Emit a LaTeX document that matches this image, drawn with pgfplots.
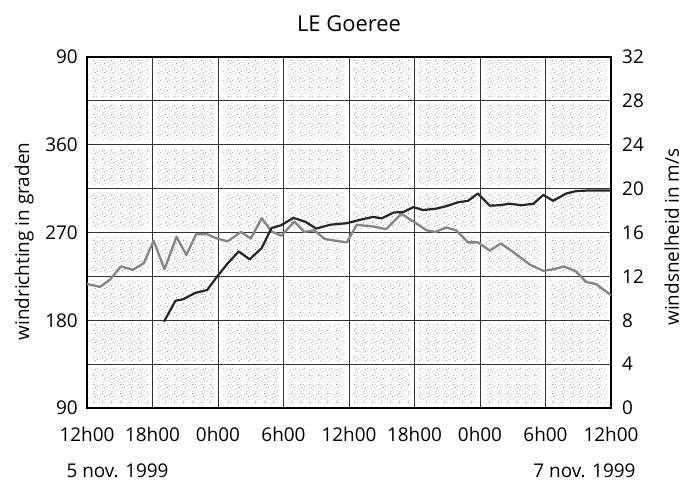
\documentclass[border=0pt]{standalone}
\usepackage{fontspec}
\setmainfont{Open Sans}
\usepackage{pgfplots}
\usepackage{pgfplotstable}
\pgfplotsset{compat=1.18}
\usetikzlibrary{patterns}

% sparse irregular stipple for the plot background
\pgfdeclarepatternformonly{stipple}{\pgfqpoint{0bp}{0bp}}{\pgfqpoint{9bp}{9bp}}{\pgfqpoint{9bp}{9bp}}{%
  \pgfpathrectangle{\pgfqpoint{0.4bp}{0.9bp}}{\pgfqpoint{0.9bp}{0.9bp}}%
  \pgfpathrectangle{\pgfqpoint{3.9bp}{0.2bp}}{\pgfqpoint{0.9bp}{0.9bp}}%
  \pgfpathrectangle{\pgfqpoint{7.1bp}{1.8bp}}{\pgfqpoint{0.9bp}{0.9bp}}%
  \pgfpathrectangle{\pgfqpoint{1.9bp}{3.6bp}}{\pgfqpoint{0.9bp}{0.9bp}}%
  \pgfpathrectangle{\pgfqpoint{5.4bp}{4.3bp}}{\pgfqpoint{0.9bp}{0.9bp}}%
  \pgfpathrectangle{\pgfqpoint{8.0bp}{5.6bp}}{\pgfqpoint{0.9bp}{0.9bp}}%
  \pgfpathrectangle{\pgfqpoint{0.7bp}{6.4bp}}{\pgfqpoint{0.9bp}{0.9bp}}%
  \pgfpathrectangle{\pgfqpoint{3.5bp}{7.6bp}}{\pgfqpoint{0.9bp}{0.9bp}}%
  \pgfpathrectangle{\pgfqpoint{6.3bp}{7.9bp}}{\pgfqpoint{0.9bp}{0.9bp}}%
  \pgfusepath{fill}}

% hours after 12h00 on 5 nov. 1999, wind speed in m/s
\pgfplotstableread{
t v
0    11.3
1.2  11.05
2.1  11.7
3.1  12.9
4.2  12.6
5.2  13.2
6.1  15.25
7.1  12.65
8.2  15.6
9.1  13.95
10.0 15.85
11.0 15.85
11.9 15.45
12.9 15.2
14.1 16.05
15.0 15.45
16.0 17.3
16.9 16.1
17.8 15.7
19.0 17.0
19.9 16.05
20.8 16.2
21.8 15.4
22.8 15.25
23.8 15.1
24.7 16.7
26.2 16.55
27.4 16.3
28.8 17.7
29.9 17.0
31.1 16.2
31.9 16.05
32.9 16.45
33.8 16.2
34.9 15.1
35.8 15.1
36.9 14.35
37.9 15.0
39.0 14.25
40.6 13.05
41.8 12.5
42.7 12.65
43.7 12.9
44.8 12.45
45.7 11.5
46.6 11.3
48.0 10.3
}\snelheid

% wind direction in degrees
\pgfplotstableread{
t deg
7.05 178.5
8.1  200
8.8  201.5
9.9  208
11.0 211
11.9 224.5
12.9 238.5
13.9 250.5
14.9 242.5
16.0 254
16.9 274.5
17.8 277.5
18.9 285
20.0 281
21.0 274
22.3 278
23.8 279.5
25.0 283
26.2 286
27.0 284.5
28.1 290.5
29.0 291
29.9 296
30.8 293
32.0 294.5
32.9 297
34.0 301
34.9 302.5
35.8 310
36.9 297.5
37.8 298
38.7 299.5
39.8 298
40.9 299.5
41.8 308.5
42.7 302.5
43.9 310
44.8 312.5
45.8 313
48.0 313
}\richting

\newcommand\lbl{\fontsize{19}{22}\selectfont}

\begin{document}
\begin{tikzpicture}
\useasboundingbox (0,0) rectangle (685bp,482bp);

% stippled cells, kept clear of the grid lines
\begin{scope}[x=1bp, y=1bp]
\foreach \i in {0,...,7}{
  \foreach \j in {0,...,7}{
    \fill[pattern=stipple, pattern color=black!40]
      ({87+65.5*\i+4.5}, {74+43.875*\j+4}) rectangle
      ({87+65.5*(\i+1)-4.5}, {74+43.875*(\j+1)-4});
  }
}
\end{scope}

\begin{axis}[
  at={(87bp,74bp)}, anchor=south west,
  width=524bp, height=351bp, scale only axis,
  xmin=0, xmax=48, ymin=0, ymax=32,
  xtick={0,6,...,48},
  xticklabels={12h00,18h00,0h00,6h00,12h00,18h00,0h00,6h00,12h00},
  ytick={0,4,...,32},
  yticklabels={0,4,8,12,16,20,24,28,32},
  yticklabel pos=right,
  grid=major,
  major grid style={black!80, line width=1bp},
  axis line style={black, line width=1.3bp},
  major tick length=0pt,
  tick label style={font=\lbl},
  xticklabel style={anchor=base, inner sep=0pt, yshift=-34bp},
  yticklabel style={anchor=west, inner sep=0pt, xshift=11bp},
  ylabel={windsnelheid in m/s},
  ylabel style={font=\lbl, at={(axis description cs:1.116,0.487)}, anchor=center},
]
\addplot[black!48, line width=2.3bp, line join=round] table[x=t, y=v] {\snelheid};
\end{axis}

\begin{axis}[
  at={(87bp,74bp)}, anchor=south west,
  width=524bp, height=351bp, scale only axis,
  xmin=0, xmax=48, ymin=90, ymax=450,
  hide x axis,
  axis line style={draw=none},
  ytick={90,180,270,360,450},
  yticklabels={90,180,270,360,90},
  major tick length=0pt,
  tick label style={font=\lbl},
  yticklabel style={anchor=east, inner sep=0pt, xshift=-9bp},
  ylabel={windrichting in graden},
  ylabel style={font=\lbl, at={(axis description cs:-0.120,0.474)}, anchor=center},
]
\addplot[black!85, line width=2.2bp, line join=round] table[x=t, y=deg] {\richting};
\end{axis}

\node[font=\fontsize{22}{26}\selectfont] at (349bp,458.5bp) {LE Goeree};
\node[font=\lbl, anchor=base west] at (63bp,4.5bp) {5 nov. 1999};
\node[font=\lbl, anchor=base east] at (639bp,4.5bp) {7 nov. 1999};
\end{tikzpicture}
\end{document}
